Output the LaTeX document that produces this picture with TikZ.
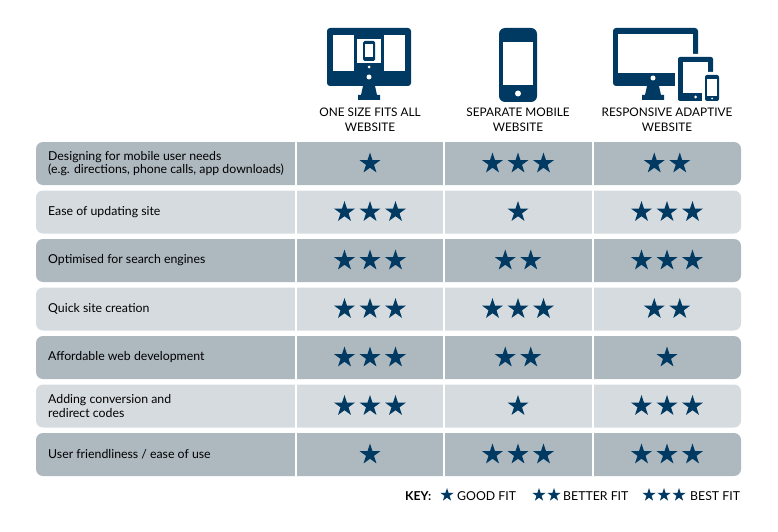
\documentclass[tikz,border=0pt]{standalone}
\usepackage{fontspec}
\setmainfont{Lato}
\usetikzlibrary{shapes.geometric}
\definecolor{navy}{HTML}{003A63}
\definecolor{rowdark}{HTML}{AEB8BF}
\definecolor{rowlight}{HTML}{D6DBDF}
\tikzset{
  fitstar/.style={star, star points=5, star point ratio=2.6, fill=navy, draw=none, inner sep=0pt, minimum size=22pt},
  keystar/.style={fitstar, minimum size=14pt},
  rowbox/.style={rounded corners=7pt, minimum width=705pt, minimum height=43pt, inner sep=0pt},
  rowtext/.style={anchor=west, align=left, inner sep=0pt, font=\fontsize{12.3}{13.5}\selectfont},
  headtext/.style={align=center, inner sep=0pt, font=\fontsize{11.8}{15}\selectfont},
  keytext/.style={anchor=west, inner sep=0pt, font=\fontsize{12.3}{14}\selectfont},
  sep/.style={white, line width=2pt}
}
\newcommand{\fitstars}[4]{%
  \foreach \k in {1,...,#2}
    \node[fitstar] (#1-\k) at ({#3+(\k-(#2+1)/2)*25.5},#4) {};}
\begin{document}
\begin{tikzpicture}[x=1pt,y=-1pt]
  \useasboundingbox (0,0) rectangle (778,532);
  % icons
  \fill[navy, rounded corners=3pt] (327,28) rectangle (411,86);
  \fill[white] (333,35) rectangle (405,71);
  \fill[navy] (354,35) rectangle (384,71);
  \fill[white] (357,39) rectangle (381,63);
  \fill[white] (369,67) circle (1.5);
  \fill[navy, rounded corners=1.5pt] (363,41) rectangle (375,61);
  \fill[white] (365,44) rectangle (373,57);
  \fill[white] (369,77) circle (2.5);
  \fill[navy] (363,86) -- (375,86) -- (377,95) -- (380,95) -- (380,100) -- (358,100) -- (358,95) -- (361,95) -- cycle;
  \fill[navy, rounded corners=6pt] (499,28) rectangle (537,102);
  \fill[white] (503,42) rectangle (533,85);
  \fill[white] (518,93.5) circle (3);
  \fill[navy, rounded corners=3pt] (613,28) rectangle (698,86);
  \fill[white] (618,34) rectangle (693,73);
  \fill[white] (653,78) circle (2.5);
  \fill[navy] (647,86) -- (659,86) -- (661,95) -- (664,95) -- (664,100) -- (642,100) -- (642,95) -- (645,95) -- cycle;
  \fill[white, rounded corners=3pt] (675,54) rectangle (716,104);
  \fill[navy, rounded corners=2pt] (678,57) rectangle (713,101);
  \fill[white] (683,62) rectangle (708,93);
  \fill[white] (695.5,97) circle (1.5);
  \fill[white, rounded corners=3pt] (702,72) rectangle (722,104);
  \fill[navy, rounded corners=2pt] (705,75) rectangle (719,101);
  \fill[white] (707,79) rectangle (717,96);
  \fill[white] (712,98.5) circle (1);
  \draw
    (370,120) node[headtext] (h1) {ONE SIZE FITS ALL\\WEBSITE}
    (518,120) node[headtext] (h2) {SEPARATE MOBILE\\WEBSITE}
    (667,120) node[headtext] (h3) {RESPONSIVE ADAPTIVE\\WEBSITE};
  % rows
  \node[rowbox, fill=rowdark]  (r1) at (388.5,163.5) {};
  \node[rowbox, fill=rowlight] (r2) at (388.5,212) {};
  \node[rowbox, fill=rowdark]  (r3) at (388.5,260.5) {};
  \node[rowbox, fill=rowlight] (r4) at (388.5,309) {};
  \node[rowbox, fill=rowdark]  (r5) at (388.5,357.5) {};
  \node[rowbox, fill=rowlight] (r6) at (388.5,406) {};
  \node[rowbox, fill=rowdark]  (r7) at (388.5,454.5) {};
  \foreach \r in {r1,r2,r3,r4,r5,r6,r7}
    \foreach \x in {296,444,593}
      \draw[sep] (\r.north -| \x,0) -- (\r.south -| \x,0);
  \node[rowtext] (l1) at (48,163.5) {Designing for mobile user needs\\(e.g. directions, phone calls, app downloads)};
  \node[rowtext] (l2) at (48,212) {Ease of updating site};
  \node[rowtext] (l3) at (48,260.5) {Optimised for search engines};
  \node[rowtext] (l4) at (48,309) {Quick site creation};
  \node[rowtext] (l5) at (48,357.5) {Affordable web development};
  \node[rowtext] (l6) at (48,406) {Adding conversion and\\redirect codes};
  \node[rowtext] (l7) at (48,454.5) {User friendliness / ease of use};
  \fitstars{a1}{1}{370}{163.5} \fitstars{b1}{3}{518}{163.5} \fitstars{c1}{2}{667}{163.5}
  \fitstars{a2}{3}{370}{212}   \fitstars{b2}{1}{518}{212}   \fitstars{c2}{3}{667}{212}
  \fitstars{a3}{3}{370}{260.5} \fitstars{b3}{2}{518}{260.5} \fitstars{c3}{3}{667}{260.5}
  \fitstars{a4}{3}{370}{309}   \fitstars{b4}{3}{518}{309}   \fitstars{c4}{2}{667}{309}
  \fitstars{a5}{3}{370}{357.5} \fitstars{b5}{2}{518}{357.5} \fitstars{c5}{1}{667}{357.5}
  \fitstars{a6}{3}{370}{406}   \fitstars{b6}{1}{518}{406}   \fitstars{c6}{3}{667}{406}
  \fitstars{a7}{1}{370}{454.5} \fitstars{b7}{3}{518}{454.5} \fitstars{c7}{3}{667}{454.5}
  % key
  \node[keytext, font=\fontsize{12.3}{14}\selectfont\bfseries] (key) at (405,496) {KEY:};
  \node[keystar] (k1) at (447,495) {};
  \node[keytext] (good) at (457,496) {GOOD FIT};
  \node[keystar] (k2) at (539,495) {};
  \node[keystar] (k3) at (554,495) {};
  \node[keytext] (better) at (563,496) {BETTER FIT};
  \node[keystar] (k4) at (649,495) {};
  \node[keystar] (k5) at (664,495) {};
  \node[keystar] (k6) at (679,495) {};
  \node[keytext] (best) at (690,496) {BEST FIT};
\end{tikzpicture}
\end{document}
